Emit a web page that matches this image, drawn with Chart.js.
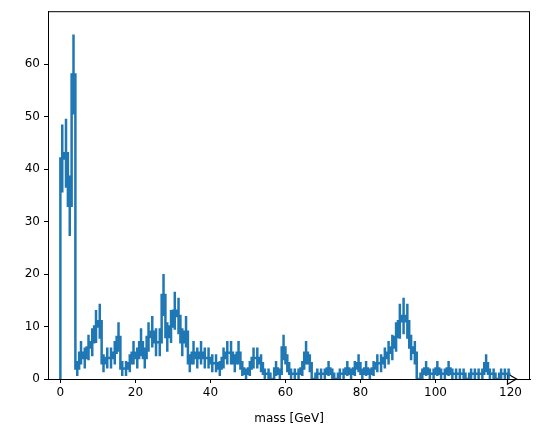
<!DOCTYPE html>
<html><head><meta charset="utf-8">
<script src="https://cdn.jsdelivr.net/npm/chart.js@4/dist/chart.umd.min.js"></script>
<style>html,body{margin:0;padding:0;background:#fff}#w{width:543px;height:433px}</style>
</head><body><div id="w"><canvas id="c"></canvas></div>
<script>
const binEdgesStart = 0;
const binWidth = 1;
const counts = [42,43,33,58,2,5,4,6,7,10,11,3,4,4,5,8,2,2,3,5,
                4,7,4,8,9,7,7,16,8,10,13,12,7,9,3,5,4,5,4,4,
                3,3,2,4,5,5,3,5,2,1,2,4,4,3,1,1,0,2,1,6,
                3,1,1,1,2,5,3,0,1,1,1,2,1,0,1,1,2,1,2,3,
                1,2,1,2,3,3,4,5,6,8,11,12,11,6,5,0,1,2,1,1,
                2,1,1,2,1,1,1,1,0,1,1,1,1,3,1,1,0,1,1,1];
const xTicks = [0,20,40,60,80,100,120];
const yTicks = [0,10,20,30,40,50,60];
const overflowX = 120;
const xLabel = 'mass [GeV]';

const stepPts = [{x:binEdgesStart,y:0}];
counts.forEach((v,i)=>{
  stepPts.push({x:binEdgesStart+i*binWidth,y:v});
  stepPts.push({x:binEdgesStart+(i+1)*binWidth,y:v});
});
const errs = counts.map(v=>Math.sqrt(v));
const blue = '#1f77b4';

const errPlugin = {id:'err', afterDatasetsDraw(chart){
  const {ctx,scales:{x,y},chartArea:a} = chart;
  ctx.save(); ctx.beginPath(); ctx.rect(a.left,a.top,a.right-a.left,a.bottom-a.top); ctx.clip();
  ctx.strokeStyle = blue; ctx.lineWidth = 2.5; ctx.lineCap='butt';
  counts.forEach((v,i)=>{ if(v<=0) return;
    const px = x.getPixelForValue(binEdgesStart+(i+0.5)*binWidth);
    ctx.beginPath(); ctx.moveTo(px,y.getPixelForValue(v-errs[i])); ctx.lineTo(px,y.getPixelForValue(v+errs[i])); ctx.stroke();
  });
  ctx.restore();
}};

Chart.defaults.font.family = 'DejaVu Sans';
Chart.defaults.font.size = 12;
Chart.defaults.color = '#000';
new Chart(document.getElementById('c'), {
  type:'line',
  data:{datasets:[
    {data:stepPts, borderColor:blue, borderWidth:2.5, pointRadius:0, fill:false, tension:0},
    {data:[{x:overflowX,y:0}], showLine:false, pointStyle:'triangle', rotation:90, pointRadius:6,
     pointBackgroundColor:'#fff', pointBorderColor:'#000', pointBorderWidth:1.2, clip:false}
  ]},
  options:{responsive:true, maintainAspectRatio:false, animation:false,
    layout:{padding:{top:10,right:13,left:0,bottom:7}},
    plugins:{legend:{display:false},tooltip:{enabled:false}},
    scales:{
      x:{type:'linear',min:-3.3,max:125.2,
        afterBuildTicks(s){s.ticks=xTicks.map(v=>({value:v}));},
        afterFit(s){s.height=47;},
        ticks:{padding:3,maxRotation:0},
        grid:{drawOnChartArea:false,tickLength:4,color:'#000'},
        border:{color:'#000',width:1},
        title:{display:true,text:xLabel,padding:{top:0,bottom:0},font:{size:12}}},
      y:{min:0,max:70.06,
        afterBuildTicks(s){s.ticks=yTicks.map(v=>({value:v}));},
        afterFit(s){s.width=48;},
        ticks:{padding:4},
        grid:{drawOnChartArea:false,tickLength:4,color:'#000'},
        border:{color:'#000',width:1}}
    }},
  plugins:[errPlugin,{id:'frame',afterDraw(c){const a=c.chartArea,x=c.ctx;x.save();x.strokeStyle='#000';x.lineWidth=1;x.strokeRect(a.left+0.5,a.top+0.5,a.right-a.left-1,a.bottom-a.top);x.restore();}}]
});
</script></body></html>
